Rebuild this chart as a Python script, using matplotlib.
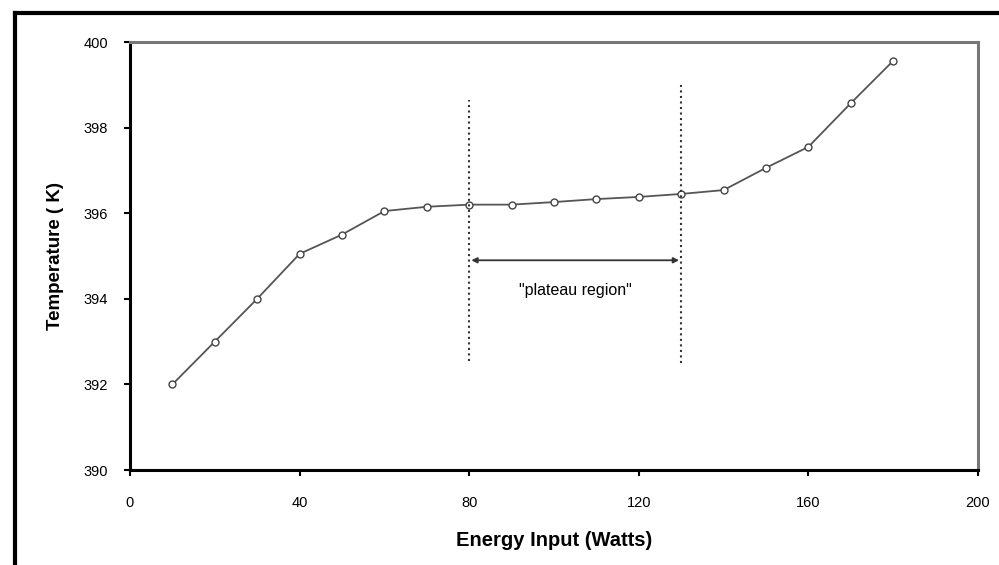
import numpy as np
import matplotlib as mpl
mpl.use('Agg')
import matplotlib.pyplot as plt
from matplotlib.lines import Line2D

plt.rcParams['font.family'] = ['Liberation Sans', 'DejaVu Sans']

# measured temperature vs. heater power
power = [10, 20, 30, 40, 50, 60, 70, 80, 90, 100, 110, 120, 130, 140, 150, 160, 170, 180]
temp = [392.0, 393.0, 394.0, 395.05, 395.5, 396.05, 396.15, 396.2, 396.2, 396.26,
        396.33, 396.38, 396.45, 396.54, 397.06, 397.55, 398.57, 399.56]

plateau_start = 80
plateau_end = 130
xticks = [0, 40, 80, 120, 160, 200]
yticks = [390, 392, 394, 396, 398, 400]

fig = plt.figure(figsize=(9.99, 5.65), dpi=100)
ax = fig.add_axes([130 / 999, 1 - 470 / 565, 848 / 999, 428 / 565])

# frame lines along the top and left of the chart
top = 1 - 13 / 565
left = 15 / 999
fig.lines.append(Line2D([left, 997 / 999], [top, top], transform=fig.transFigure,
                        color='black', linewidth=3))
fig.lines.append(Line2D([left, left], [0, top], transform=fig.transFigure,
                        color='black', linewidth=3))

ax.plot(power, temp, '-o', color='#555555', linewidth=1.3, markersize=5,
        markerfacecolor='white', markeredgecolor='#444444', markeredgewidth=1.0)

ax.plot([plateau_start, plateau_start], [392.55, 398.65], linestyle=':',
        color='#333333', linewidth=1.5)
ax.plot([plateau_end, plateau_end], [392.5, 399.0], linestyle=':',
        color='#333333', linewidth=1.5)
ax.annotate('', xy=(plateau_start + 0.5, 394.9), xytext=(plateau_end - 0.5, 394.9),
            arrowprops=dict(arrowstyle='<|-|>', color='#333333', lw=1.3,
                            mutation_scale=8, shrinkA=0, shrinkB=0))
ax.text(105, 394.2, '"plateau region"', ha='center', va='center', fontsize=11.5)

ax.set_xlim(0, 200)
ax.set_ylim(390, 400)
ax.set_xticks(xticks)
ax.set_yticks(yticks)
ax.tick_params(labelsize=10.5, length=4, width=1.5, direction='out')
ax.tick_params(axis='x', pad=15)
ax.tick_params(axis='y', pad=12)
ax.set_xlabel('Energy Input (Watts)', fontsize=14.5, fontweight='bold', labelpad=15)
ax.set_ylabel('Temperature ( K)', fontsize=13.5, fontweight='bold', labelpad=14)

for side in ('left', 'bottom'):
    ax.spines[side].set_color('black')
    ax.spines[side].set_linewidth(2.2)
for side in ('top', 'right'):
    ax.spines[side].set_color('#777777')
    ax.spines[side].set_linewidth(2.2)

plt.savefig('out.png', dpi=100)
